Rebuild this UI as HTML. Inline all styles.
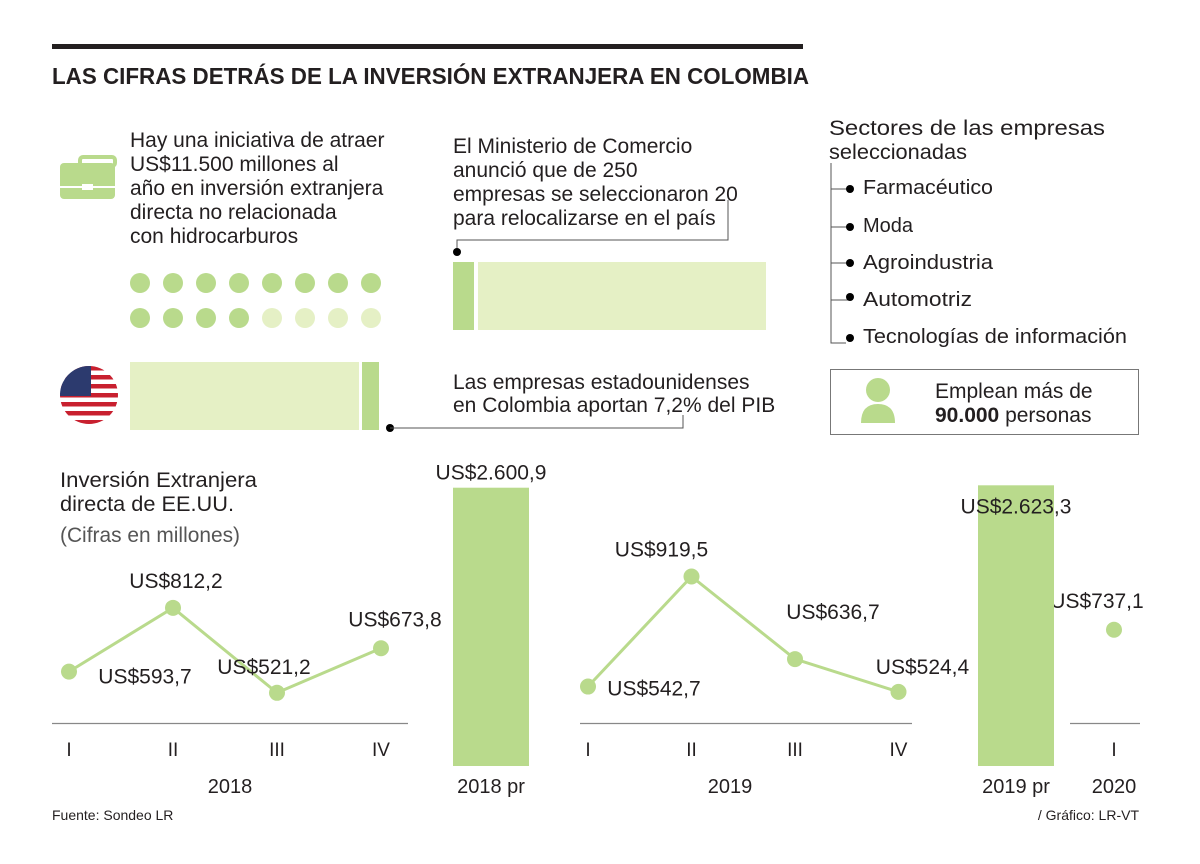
<!DOCTYPE html>
<html><head><meta charset="utf-8"><style>
body{margin:0;background:#fff;font-family:"Liberation Sans",sans-serif;}
svg text{font-family:"Liberation Sans",sans-serif;fill:#231f20;}
</style></head><body>
<svg id="c" width="1200" height="859" viewBox="0 0 1200 859" xmlns="http://www.w3.org/2000/svg">
<rect x="52" y="44" width="751" height="5" fill="#231f20"/>
<text x="52" y="84" font-size="23" font-weight="bold" textLength="757" lengthAdjust="spacingAndGlyphs">LAS CIFRAS DETRÁS DE LA INVERSIÓN EXTRANJERA EN COLOMBIA</text>

<g fill="#b9da8c">
<rect x="80" y="157" width="35" height="9" rx="3" fill="none" stroke="#b9da8c" stroke-width="4"/>
<rect x="60" y="163" width="55" height="36" rx="4"/>
<rect x="58" y="186" width="59" height="2" fill="#fff"/>
<rect x="82" y="184" width="11" height="6" fill="#fff"/>
</g>
<g font-size="21">
<text x="130" y="147">Hay una iniciativa de atraer</text>
<text x="130" y="171">US$11.500 millones al</text>
<text x="130" y="195">año en inversión extranjera</text>
<text x="130" y="219">directa no relacionada</text>
<text x="130" y="243">con hidrocarburos</text>
</g>
<g id="dots"></g>

<g>
<clipPath id="fc"><circle cx="89" cy="395" r="29"/></clipPath>
<g clip-path="url(#fc)">
<rect x="60" y="366" width="58" height="58" fill="#fff"/>
<rect x="60" y="366" width="58" height="4.5" fill="#c8202f"/>
<rect x="60" y="375" width="58" height="4.5" fill="#c8202f"/>
<rect x="60" y="384" width="58" height="4.5" fill="#c8202f"/>
<rect x="60" y="393" width="58" height="4.5" fill="#c8202f"/>
<rect x="60" y="402" width="58" height="4.5" fill="#c8202f"/>
<rect x="60" y="411" width="58" height="4.5" fill="#c8202f"/>
<rect x="60" y="420" width="58" height="4.5" fill="#c8202f"/>
<rect x="60" y="366" width="31" height="30" fill="#2c3a6e"/>
</g></g>
<rect x="130" y="362" width="229" height="68" fill="#e5f0c5"/>
<rect x="362" y="362" width="17" height="68" fill="#b9da8c"/>
<circle cx="390" cy="428" r="4" fill="#000"/><path d="M390 428H683V415" stroke="#555" fill="none" stroke-width="1"/>
<g font-size="21">
<text x="453" y="389">Las empresas estadounidenses</text>
<text x="453" y="412">en Colombia aportan 7,2% del PIB</text>
</g>

<g font-size="21">
<text x="453" y="153">El Ministerio de Comercio</text>
<text x="453" y="177">anunció que de 250</text>
<text x="453" y="201">empresas se seleccionaron 20</text>
<text x="453" y="225">para relocalizarse en el país</text>
</g>
<path d="M457 252V240H728V200" stroke="#555" fill="none"/><circle cx="457" cy="252" r="4" fill="#000"/>
<rect x="453" y="262" width="21" height="68" fill="#b9da8c"/>
<rect x="478" y="262" width="288" height="68" fill="#e5f0c5"/>

<text x="829" y="135" font-size="21" textLength="276" lengthAdjust="spacingAndGlyphs">Sectores de las empresas</text>
<text x="829" y="159" font-size="21" textLength="138" lengthAdjust="spacingAndGlyphs">seleccionadas</text>
<path d="M831 163V343H846" stroke="#555" fill="none"/>
<g font-size="20">
<path d="M831 189H850M831 227H850M831 263H850M831 300H850" stroke="#555"/>
<circle cx="850" cy="189" r="4"/><text x="863" y="194" textLength="130" lengthAdjust="spacingAndGlyphs">Farmacéutico</text>
<circle cx="850" cy="227" r="4"/><text x="863" y="232">Moda</text>
<circle cx="850" cy="263" r="4"/><text x="863" y="269" textLength="130" lengthAdjust="spacingAndGlyphs">Agroindustria</text>
<circle cx="850" cy="297" r="4"/><text x="863" y="306" textLength="109" lengthAdjust="spacingAndGlyphs">Automotriz</text>
<circle cx="850" cy="338" r="4"/><text x="863" y="343" textLength="264" lengthAdjust="spacingAndGlyphs">Tecnologías de información</text>
</g>
<rect x="830.5" y="369.5" width="308" height="65" fill="none" stroke="#777"/>
<circle cx="878" cy="390" r="12" fill="#b9da8c"/><path d="M861 423Q861 404 878 404Q895 404 895 423Z" fill="#b9da8c"/>
<text x="935" y="398" font-size="21">Emplean más de</text>
<text x="935" y="422" font-size="21"><tspan font-weight="bold">90.000</tspan> personas</text>

<g font-size="21">
<text x="60" y="487" textLength="197" lengthAdjust="spacingAndGlyphs">Inversión Extranjera</text>
<text x="60" y="511" textLength="174" lengthAdjust="spacingAndGlyphs">directa de EE.UU.</text>
<text x="60" y="542" textLength="180" lengthAdjust="spacingAndGlyphs" style="fill:#555">(Cifras en millones)</text>
</g>
<g id="chart">
<path d="M52 723.5H408M580 723.5H912M1070 723.5H1140" stroke="#888" stroke-width="1.3"/>
</g>
<text x="52" y="820" font-size="14" fill="#444">Fuente: Sondeo LR</text>
<text x="1139" y="820" font-size="14" text-anchor="end">/ Gráfico: LR-VT</text>
</svg>
<script>
const quarters=["I","II","III","IV"];
const values2018=[593.7,812.2,521.2,673.8];
const labels2018=["US$593,7","US$812,2","US$521,2","US$673,8"];
const values2019=[542.7,919.5,636.7,524.4];
const labels2019=["US$542,7","US$919,5","US$636,7","US$524,4"];
const values2020=[737.1];
const labels2020=["US$737,1"];
const barCategories=["2018 pr","2019 pr"];
const barValues=[2600.9,2623.3];
const barLabels=["US$2.600,9","US$2.623,3"];
const dotsFilled=12, dotsTotal=16;

const NS="http://www.w3.org/2000/svg";
const svg=document.getElementById('chart');
function mk(t,a,p){const e=document.createElementNS(NS,t);for(const k in a)e.setAttribute(k,a[k]);(p||svg).appendChild(e);return e;}
const y=v=>845-v*0.292;
const barY=v=>766-v*0.107;
const G="#b9da8c";

const dg=document.getElementById('dots');
for(let i=0;i<dotsTotal;i++){
 const c=mk('circle',{cx:140+(i%8)*33,cy:i<8?283:318,r:10,fill:i<dotsFilled?G:'#e5f0c5'},dg);
 
 
}

function series(vals,labs,x0,dx,offs,year,yx){
 const pts=vals.map((v,i)=>[x0+i*dx,y(v)]);
 if(pts.length>1){const l=mk('polyline',{points:pts.map(p=>p.join(',')).join(' '),fill:'none',stroke:G,'stroke-width':3});
 
 }
 pts.forEach((p,i)=>{
  const c=mk('circle',{cx:p[0],cy:p[1],r:8,fill:G});
  
  
  const t=mk('text',{x:p[0]+offs[i][0],y:p[1]+offs[i][1],'font-size':21,'text-anchor':'middle'});t.textContent=labs[i];
  
  
  const q=mk('text',{x:p[0],y:756,'font-size':19,'text-anchor':'middle',fill:'#444'});q.textContent=quarters[i];
  
  
 });
 const yt=mk('text',{x:yx,y:793,'font-size':20,'text-anchor':'middle'});yt.textContent=year;
 
 
}
series(values2018,labels2018,69,104,[[76,12],[3,-20],[-13,-19],[14,-22]],"2018",230);
series(values2019,labels2019,588,103.5,[[66,9],[-30,-20],[38,-40],[24,-18]],"2019",730);
series(values2020,labels2020,1114,0,[[-17,-22]],"2020",1114);

const bx=[453,978];
barValues.forEach((v,i)=>{
 const top=barY(v);
 const r=mk('rect',{x:bx[i],y:top,width:76,height:766-top,fill:G});
 
 
 const t=mk('text',{x:bx[i]+38,y:i==0?top-8:top+28,'font-size':21,'text-anchor':'middle'});t.textContent=barLabels[i];
 
 
 const c=mk('text',{x:bx[i]+38,y:793,'font-size':20,'text-anchor':'middle'});c.textContent=barCategories[i];
 
 
});
</script>
</body></html>
